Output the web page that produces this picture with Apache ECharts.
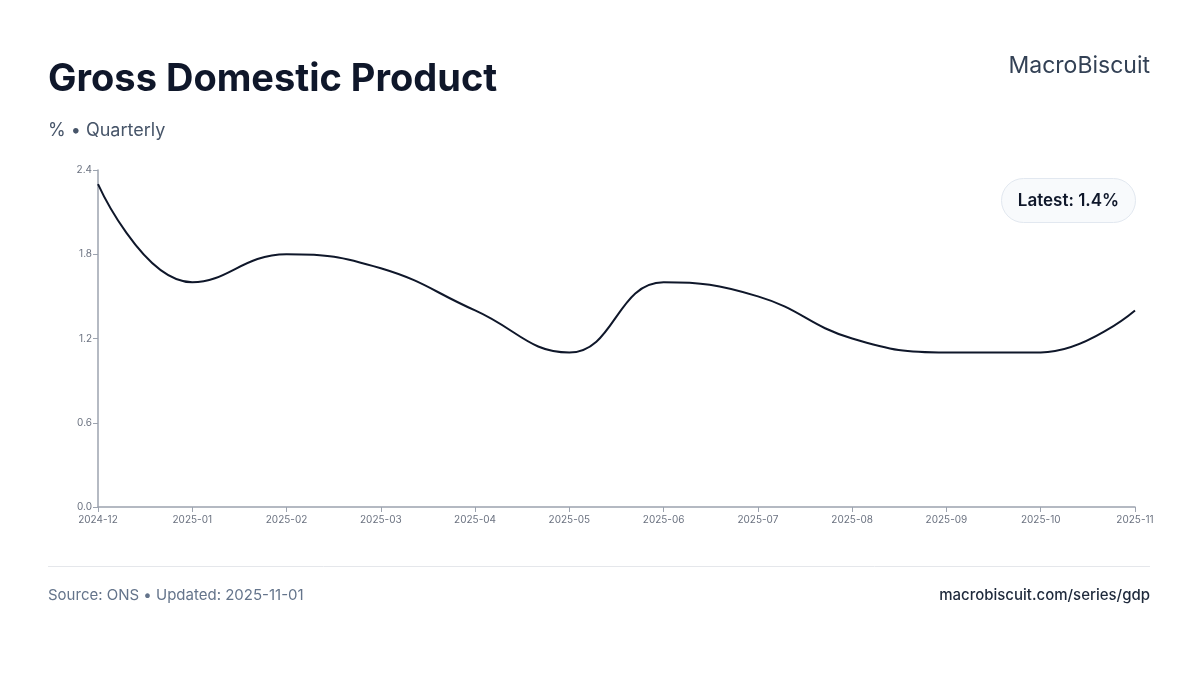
<!DOCTYPE html>
<html>
<head>
<meta charset="utf-8">
<script src="https://cdn.jsdelivr.net/npm/echarts@6/dist/echarts.min.js"></script>
<style>
html,body{margin:0;padding:0;background:#fff;}
#c{width:1200px;height:675px;}
</style>
</head>
<body>
<div id="c"></div>
<script>
const categories = ['2024-12','2025-01','2025-02','2025-03','2025-04','2025-05','2025-06','2025-07','2025-08','2025-09','2025-10','2025-11'];
const gdpValues = [2.3, 1.6, 1.8, 1.7, 1.4, 1.1, 1.6, 1.5, 1.2, 1.1, 1.1, 1.4];
const yTicks = [0, 0.6, 1.2, 1.8, 2.4];

const FONT = 'Inter, "Noto Sans", sans-serif';
const chart = echarts.init(document.getElementById('c'), null, {renderer:'canvas'});
const latest = gdpValues[gdpValues.length - 1];

chart.setOption({
  backgroundColor: '#ffffff',
  animation: false,
  textStyle: {fontFamily: FONT},
  title: [
    {text: 'Gross Domestic Product', left: 48, top: 61, padding: 0,
     textStyle: {fontFamily: FONT, fontSize: 38, fontWeight: 700, color: '#0f172a'}},
    {text: '% • Quarterly', left: 48, top: 122, padding: 0,
     textStyle: {fontFamily: FONT, fontSize: 18, fontWeight: 400, color: '#475569'}},
    {text: 'MacroBiscuit', right: 50, top: 55, padding: 0,
     textStyle: {fontFamily: FONT, fontSize: 23, fontWeight: 400, color: '#334155'}},
    {text: 'Source: ONS • Updated: 2025-11-01', left: 48, top: 588, padding: 0,
     textStyle: {fontFamily: FONT, fontSize: 15, fontWeight: 400, color: '#64748b'}},
    {text: 'macrobiscuit.com/series/gdp', right: 50, top: 588, padding: 0,
     textStyle: {fontFamily: FONT, fontSize: 15, fontWeight: 500, color: '#1e293b'}}
  ],
  grid: {left: 98, right: 65, top: 170, bottom: 168, containLabel: false},
  xAxis: {
    type: 'category',
    data: categories,
    boundaryGap: false,
    axisLine: {lineStyle: {color: '#9ca3af', width: 1.5}},
    axisTick: {show: true, length: 5, lineStyle: {color: '#9ca3af'}},
    axisLabel: {color: '#6b7280', fontSize: 10, fontFamily: FONT, margin: 8, interval: 0},
    splitLine: {show: false}
  },
  yAxis: {
    type: 'value',
    min: yTicks[0],
    max: yTicks[yTicks.length - 1],
    interval: yTicks[1] - yTicks[0],
    axisLine: {show: true, lineStyle: {color: '#9ca3af', width: 1.5}},
    axisTick: {show: true, length: 5, lineStyle: {color: '#9ca3af'}},
    axisLabel: {color: '#6b7280', fontSize: 10, fontFamily: FONT, margin: 6,
      formatter: v => v.toFixed(1)},
    splitLine: {show: false}
  },
  series: [{
    type: 'line',
    data: gdpValues,
    smooth: 0.45,
    showSymbol: false,
    lineStyle: {color: '#0f172a', width: 2},
    itemStyle: {color: '#0f172a'}
  }],
  graphic: [
    {type: 'line', shape: {x1: 48, y1: 566.5, x2: 1150, y2: 566.5},
     style: {stroke: '#e5e7eb', lineWidth: 1}},
    {type: 'rect', shape: {x: 1001.5, y: 178.5, width: 134, height: 44, r: 22},
     style: {fill: '#f8fafc', stroke: '#e2e8f0', lineWidth: 1}, z: 10},
    {type: 'text', x: 1068.5, y: 200.5,
     style: {text: 'Latest: ' + latest.toFixed(1) + '%', fill: '#0f172a',
       font: '600 17px ' + FONT, align: 'center', verticalAlign: 'middle'}, z: 11}
  ]
});
</script>
</body>
</html>
